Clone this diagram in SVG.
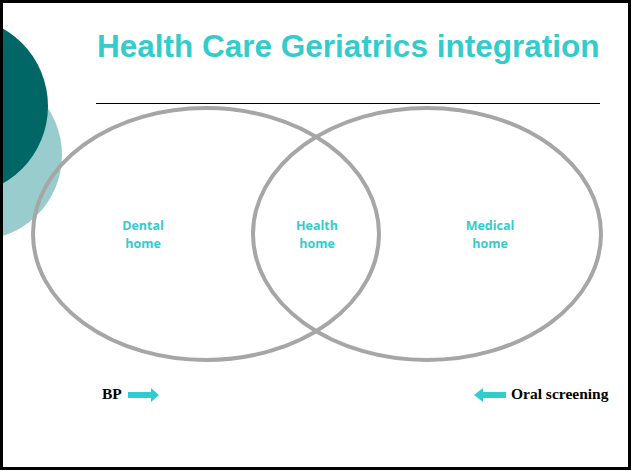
<svg xmlns="http://www.w3.org/2000/svg" width="631" height="471" viewBox="0 0 631 471">
<style>
.lbl{font-family:"Open Sans","Liberation Sans",sans-serif;font-weight:bold;font-size:12.5px;fill:#33cccc;text-anchor:middle}
.ov{fill:none;stroke:#a6a6a6;stroke-width:4}
.ser{font-family:"Liberation Serif",serif;font-weight:bold;font-size:15.5px;fill:#000}
.arr{fill:#33cccc}
</style>
<rect x="0" y="0" width="631" height="471" fill="#fff"/>
<circle cx="-23" cy="155" r="85" fill="#99cccc"/>
<circle cx="-41" cy="106" r="89" fill="#006666"/>
<text x="97" y="57" font-family="Liberation Sans, Arial, sans-serif" font-weight="bold" font-size="31.5" fill="#33cccc">Health Care Geriatrics integration</text>
<line x1="96" y1="103.5" x2="600" y2="103.5" stroke="#000" stroke-width="1"/>
<g id="connectors">
<g id="arrow-bp"><polygon class="arr" points="128,392 151,392 151,388 159,395 151,402 151,398 128,398"/></g>
<g id="arrow-oral"><polygon class="arr" points="506,392 483,392 483,388 474,395 483,402 483,398 506,398"/></g>
</g>
<g id="dental"><ellipse class="ov" cx="206" cy="234" rx="173" ry="126"/>
<text class="lbl" x="143" y="230">Dental</text><text class="lbl" x="143" y="248">home</text></g>
<g id="medical"><ellipse class="ov" cx="427" cy="234" rx="174" ry="126"/>
<text class="lbl" x="490" y="230">Medical</text><text class="lbl" x="490" y="248">home</text></g>
<g id="health"><text class="lbl" x="317" y="230">Health</text><text class="lbl" x="317" y="248">home</text></g>
<g id="bp"><text class="ser" x="102" y="399">BP</text></g>
<g id="oral"><text class="ser" x="511" y="399">Oral screening</text></g>
<rect x="1.5" y="1.5" width="628" height="467" fill="none" stroke="#000" stroke-width="3"/>
</svg>
